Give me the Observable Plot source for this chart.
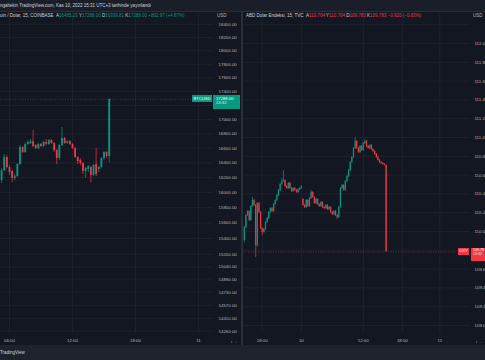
<!DOCTYPE html>
<html><head><meta charset="utf-8">
<script src="https://cdn.jsdelivr.net/npm/d3@7"></script>
<script src="https://cdn.jsdelivr.net/npm/@observablehq/plot@0.6"></script>
<style>
html,body{margin:0;padding:0;background:#131722;width:485px;height:360px;overflow:hidden;font-family:"Liberation Sans",Arial,sans-serif;}
#root{position:relative;width:485px;height:360px;overflow:hidden;}
.abs{position:absolute;white-space:nowrap;line-height:1;}
.t{font-size:4.5px;color:#d1d4dc;}
.g{color:#089981}.r{color:#f23645}
.tag{position:absolute;color:#fff;font-size:4.2px;line-height:1;white-space:nowrap;box-sizing:border-box;overflow:hidden;}
</style></head><body><div id="root"></div>
<script>
// ---- Bitcoin / Dolar, 15, COINBASE (15-minute candles) ----
const btcOpen  = [16160,16295,16472,16336,16282,16187,16214,16377,16609,16540,16651,16665,16692,16637,16596,16651,16623,16679,16651,16706,16665,16568,16458,16637,16734,16665,16692,16651,16596,16472,16431,16390,16282,16309,16336,16228,16377,16309,16336,16458,16540,16485.23];
const btcHigh  = [16322,16513,16499,16363,16295,16241,16390,16637,16623,16679,16706,16720,16846,16651,16665,16665,16692,16720,16720,16720,16679,16582,16651,16888,16748,16706,16706,16665,16609,16486,16458,16404,16336,16363,16349,16377,16596,16349,16472,16554,16554,17288];
const btcLow   = [16120,16282,16322,16228,16133,16160,16200,16363,16527,16527,16637,16651,16609,16582,16582,16609,16609,16637,16637,16651,16540,16377,16431,16623,16651,16651,16637,16582,16458,16377,16363,16241,16187,16268,16133,16214,16214,16268,16322,16431,16458,16399.81];
const btcClose = [16295,16472,16336,16268,16187,16214,16377,16609,16540,16651,16679,16692,16623,16596,16651,16623,16679,16651,16706,16665,16568,16458,16637,16734,16665,16692,16651,16596,16472,16417,16390,16282,16322,16349,16228,16363,16241,16336,16458,16540,16486,17288];
const btcGridTicks  = [18400,18200,18000,17800,17600,17400,17200,17000,16800,16600,16400,16200,16000,15800,15600,15400,15200,15040,14890,14730,14570,14410,14260];
const btcLabelTicks = [18400,18200,18000,17800,17600,17400,17000,16800,16600,16400,16200,16000,15800,15600,15400,15200,15040,14890,14730,14570,14410,14260];
const btcTimeIdx = [3,27,51,75];
const btcTimeLabels = ["06:00","12:00","18:00","11"];

// ---- ABD Dolar Endeksi, 15, TVC ----
const dxyOpen  = [109.904,110.043,110.170,110.213,110.117,110.266,110.330,110.277,109.851,110.298,110.202,110.032,109.989,110.021,110.096,110.138,110.202,110.245,110.213,110.287,110.330,110.383,110.436,110.500,110.532,110.543,110.479,110.457,110.511,110.457,110.426,110.457,110.436,110.415,110.447,110.457,110.340,110.277,110.255,110.330,110.266,110.351,110.415,110.362,110.298,110.340,110.287,110.266,110.309,110.255,110.245,110.277,110.234,110.255,110.202,110.181,110.213,110.170,110.149,110.255,110.457,110.489,110.436,110.532,110.585,110.649,110.734,110.787,110.883,110.957,110.883,110.840,110.904,110.862,110.936,110.957,110.904,110.883,110.915,110.872,110.851,110.819,110.787,110.755,110.734,110.723,110.713,110.704];
const dxyHigh  = [110.053,110.181,110.223,110.223,110.277,110.362,110.340,110.287,110.309,110.309,110.213,110.043,110.032,110.106,110.149,110.213,110.255,110.255,110.298,110.340,110.394,110.447,110.511,110.564,110.649,110.553,110.489,110.521,110.521,110.468,110.468,110.468,110.447,110.457,110.468,110.489,110.351,110.287,110.340,110.340,110.362,110.436,110.426,110.372,110.351,110.351,110.298,110.319,110.319,110.266,110.287,110.287,110.266,110.266,110.213,110.223,110.223,110.181,110.266,110.468,110.500,110.500,110.543,110.596,110.660,110.745,110.798,110.894,111.000,110.968,110.894,110.915,110.915,110.947,110.979,110.968,110.915,110.925,110.925,110.883,110.862,110.830,110.798,110.766,110.745,110.734,110.723,110.704];
const dxyLow   = [109.880,110.032,110.160,110.106,110.106,110.255,110.266,109.723,109.830,110.191,110.021,109.957,109.978,110.010,110.085,110.128,110.191,110.202,110.202,110.277,110.319,110.372,110.426,110.489,110.521,110.468,110.447,110.447,110.447,110.415,110.415,110.426,110.404,110.404,110.436,110.447,110.266,110.245,110.245,110.255,110.255,110.340,110.351,110.287,110.287,110.277,110.255,110.255,110.245,110.234,110.234,110.223,110.223,110.191,110.170,110.170,110.160,110.128,110.138,110.245,110.447,110.426,110.426,110.521,110.574,110.638,110.723,110.777,110.872,110.872,110.830,110.830,110.851,110.851,110.925,110.894,110.872,110.872,110.862,110.840,110.809,110.777,110.745,110.723,110.713,110.702,110.698,109.783];
const dxyClose = [110.043,110.170,110.213,110.117,110.266,110.330,110.277,109.851,110.298,110.202,110.032,109.989,110.021,110.096,110.138,110.202,110.245,110.213,110.287,110.330,110.383,110.436,110.500,110.532,110.543,110.479,110.457,110.511,110.457,110.426,110.457,110.436,110.415,110.447,110.457,110.479,110.277,110.255,110.330,110.266,110.351,110.415,110.362,110.298,110.340,110.287,110.266,110.309,110.255,110.245,110.277,110.234,110.255,110.202,110.181,110.213,110.170,110.149,110.255,110.457,110.489,110.436,110.532,110.585,110.649,110.734,110.787,110.883,110.957,110.883,110.840,110.904,110.862,110.936,110.957,110.904,110.883,110.915,110.872,110.851,110.819,110.787,110.755,110.734,110.723,110.713,110.704,109.783];
const dxyGridTicks  = [112.2,112.0,111.8,111.6,111.4,111.2,111.0,110.8,110.6,110.4,110.2,110.0,109.8,109.6,109.4,109.2,109.0];
const dxyLabelTicks = [112.0,111.8,111.6,111.4,111.2,111.0,110.8,110.6,110.4,110.2,110.0,109.6,109.4,109.2,109.0];
const dxyTimeIdx = [11,35,73,97,120];
const dxyTimeLabels = ["18:00","10","12:00","18:00","11"];

const UP = "#089981", DOWN = "#f23645", GRID = "#1e222d";
const colorOf = d => d.close >= d.open ? UP : DOWN;
const toRows = (o,h,l,c) => c.map((v,i)=>({i, open:o[i], high:h[i], low:l[i], close:v}));
const btc = toRows(btcOpen,btcHigh,btcLow,btcClose);
const dxy = toRows(dxyOpen,dxyHigh,dxyLow,dxyClose);

const style = {background:"transparent", color:"#b2b5be", fontSize:"4.4px", fontFamily:"Liberation Sans, Arial, sans-serif", overflow:"visible"};

function panel({rows, width, marginRight, xDomain, yType, yDomain, gridTicks, labelTicks, fmt, pad, timeIdx, timeLabels, bodyW, lastColor}) {
  return Plot.plot({
    width, height:333, marginTop:0, marginBottom:12, marginLeft:0, marginRight,
    style,
    x:{type:"linear", domain:xDomain, axis:null},
    y:{type:yType, domain:yDomain, axis:null},
    marks:[
      Plot.gridY(gridTicks, {stroke:GRID, strokeOpacity:1}),
      Plot.gridX(timeIdx, {stroke:GRID, strokeOpacity:1}),
      Plot.ruleY([rows[rows.length-1].close], {stroke:lastColor, strokeOpacity:0.45, strokeDasharray:"1,1.5"}),
      Plot.ruleX(rows, {x:"i", y1:"low", y2:"high", stroke:colorOf, strokeWidth:0.7}),
      Plot.ruleX(rows, {x:"i", y1:"open", y2:"close", stroke:colorOf, strokeWidth:bodyW}),
      Plot.axisY(labelTicks, {anchor:"right", tickSize:0, tickPadding:pad, tickFormat:fmt, fill:"#b2b5be"}),
      Plot.axisX(timeIdx, {anchor:"bottom", tickSize:0, tickPadding:5, tickFormat:d => timeLabels[timeIdx.indexOf(d)], fill:"#b2b5be"})
    ]
  });
}

const root = document.getElementById("root");
function div(cls, css, html){ const e=document.createElement("div"); e.className=cls; e.style.cssText=css; e.innerHTML=html||""; root.appendChild(e); return e; }

// header band
div("abs", "left:0;top:0;width:485px;height:11px;background:#1a1e29;border-bottom:1px solid #2a2e39;");
div("abs t", "left:0;top:3.5px;", "ngaltekin TradingView.com, Kas 10, 2022 15:31 UTC+3 tarihinde yayınlandı");

const leftPlot = panel({rows:btc, width:240, marginRight:27, xDomain:[-0.42,80.7], yType:"log", yDomain:[14232,18581],
  gridTicks:btcGridTicks, labelTicks:btcLabelTicks, fmt:d3.format(".2f"), pad:5, timeIdx:btcTimeIdx, timeLabels:btcTimeLabels, bodyW:1.8, lastColor:UP});
leftPlot.style.position="absolute"; leftPlot.style.left="0px"; leftPlot.style.top="12px";
root.appendChild(leftPlot);

const rightPlot = panel({rows:dxy, width:242, marginRight:15, xDomain:[-0.49,138.8], yType:"linear", yDomain:[108.915,112.330],
  gridTicks:dxyGridTicks, labelTicks:dxyLabelTicks, fmt:d3.format(".1f"), pad:4, timeIdx:dxyTimeIdx, timeLabels:dxyTimeLabels, bodyW:1.2, lastColor:DOWN});
rightPlot.style.position="absolute"; rightPlot.style.left="243px"; rightPlot.style.top="12px";
root.appendChild(rightPlot);

// separator between panes
div("abs", "left:240.5px;top:12px;width:2.5px;height:333px;background:#2a2e39;");

// legends
div("abs t", "left:0;top:14px;", "oin / Dolar, 15, COINBASE &nbsp;A<span class='g'>16485.23</span> Y<span class='g'>17288.00</span> D<span class='g'>16399.81</span> K<span class='g'>17288.00</span> <span class='g'>+802.97 (+4.87%)</span>");
div("abs t", "left:246px;top:14px;", "ABD Dolar Endeksi, 15, TVC &nbsp;A<span class='r'>110.704</span> Y<span class='r'>110.704</span> D<span class='r'>109.783</span> K<span class='r'>109.783</span> <span class='r'>−0.920 (−0.83%)</span>");
div("abs t", "left:217px;top:14px;color:#b2b5be;", "USD");
div("abs t", "left:473px;top:14px;color:#b2b5be;", "USD");

// last price tags, positioned with the plots' own y scales
const yL = 12 + leftPlot.scale("y").apply(btcClose[btcClose.length-1]);
div("tag", `left:192px;top:${yL-3.5}px;width:20px;height:7px;background:${UP};padding-top:1.4px;text-align:center;`, "BTCUSD");
div("tag", `left:213px;top:${yL-3.5}px;width:27px;height:14px;background:${UP};padding:1.4px 0 0 3px;`, "17288.00<br><span style='opacity:.85'>13:32</span>");
const yR = 12 + rightPlot.scale("y").apply(dxyClose[dxyClose.length-1]);
div("tag", `left:458px;top:${yR-3.5}px;width:11px;height:7px;background:${DOWN};padding-top:1.4px;text-align:center;`, "DXY");
div("tag", `left:471px;top:${yR-3.5}px;width:14px;height:13px;background:${DOWN};padding:1.4px 0 0 2px;font-size:3.6px;`, "109.78<br><span style='opacity:.85'>13:32</span>");

// footer band
div("abs", "left:0;top:345px;width:485px;height:15px;background:#1e222d;");
div("abs t", "left:0;top:351px;", "TradingView");
</script></body></html>
